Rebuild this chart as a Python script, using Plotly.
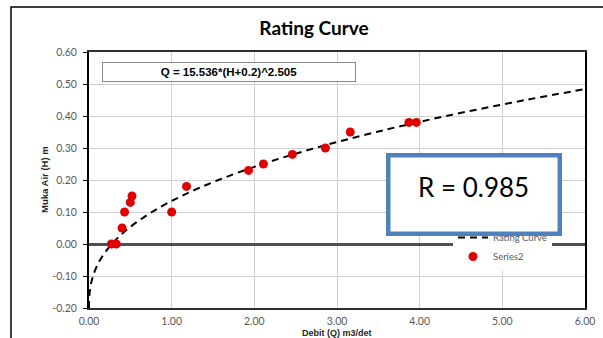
import plotly.graph_objects as go

# Observed points (Series2)
obs_q = [0.27, 0.33, 0.40, 0.43, 0.50, 0.52, 1.00, 1.18, 1.93, 2.11, 2.46, 2.86, 3.16, 3.87, 3.96]
obs_h = [0.00, 0.00, 0.05, 0.10, 0.13, 0.15, 0.10, 0.18, 0.23, 0.25, 0.28, 0.30, 0.35, 0.38, 0.38]

# Rating curve (Q = 15.536*(H+0.2)^2.505), tabulated
curve_h = [-0.20, -0.19, -0.18, -0.17, -0.16, -0.15, -0.125, -0.10, -0.075, -0.05, -0.025,
           0.00, 0.025, 0.05, 0.10, 0.15, 0.20, 0.25, 0.30, 0.35, 0.40, 0.45, 0.484]
curve_q = [0.0, 0.00015, 0.00086, 0.00238, 0.00489, 0.0086, 0.0236, 0.0486, 0.0850, 0.134, 0.1974,
           0.2757, 0.3703, 0.482, 0.761, 1.120, 1.565, 2.102, 2.737, 3.475, 4.321, 5.280, 6.0]

x_ticks = [0, 1, 2, 3, 4, 5, 6]
x_labels = ["0.00", "1.00", "2.00", "3.00", "4.00", "5.00", "6.00"]
y_ticks = [-0.2, -0.1, 0.0, 0.1, 0.2, 0.3, 0.4, 0.5, 0.6]
y_labels = ["-0.20", "-0.10", "0.00", "0.10", "0.20", "0.30", "0.40", "0.50", "0.60"]

title_text = "Rating Curve"
equation_text = "Q = 15.536*(H+0.2)^2.505"
r_text = "R = 0.985"

W, H = 603, 338
L, R, T, B = 89, 18, 52, 30

def px_x(p):
    return (p - L) / (W - L - R)

def px_y(p):
    return (H - B - p) / (H - T - B)

fig = go.Figure()
fig.add_trace(go.Scatter(
    x=curve_q, y=curve_h, mode="lines", name="Rating Curve",
    line=dict(color="black", width=2, dash="7px,5px", shape="spline"),
))
fig.add_trace(go.Scatter(
    x=obs_q, y=obs_h, mode="markers", name="Series2",
    marker=dict(color="#E00000", size=9),
))

tick_font = dict(family="Lato, Open Sans, sans-serif", size=10.5, color="#595959")

fig.update_layout(
    width=W, height=H,
    margin=dict(l=L, r=R, t=T, b=B),
    paper_bgcolor="white", plot_bgcolor="white",
    title=dict(text="<b>" + title_text + "</b>", x=314 / W, xanchor="center",
               y=1 - 28 / H, yanchor="middle",
               font=dict(family="Lato, sans-serif", size=19, color="black")),
    xaxis=dict(range=[0, 6], tickvals=x_ticks, ticktext=x_labels, tickfont=tick_font,
               showgrid=True, gridcolor="#D0D0D0", gridwidth=1,
               showline=True, linecolor="#303030", linewidth=1.5, mirror=True,
               zeroline=False, ticks="", ticklabelstandoff=3, automargin=False),
    yaxis=dict(range=[-0.2, 0.6], tickvals=y_ticks, ticktext=y_labels, tickfont=tick_font,
               showgrid=True, gridcolor="#D0D0D0", gridwidth=1,
               showline=True, linecolor="black", linewidth=2, mirror=True,
               zeroline=True, zerolinecolor="#505050", zerolinewidth=2.5,
               ticks="outside", ticklen=4, tickcolor="black", tickwidth=1,
               ticklabelstandoff=4, automargin=False),
    showlegend=True,
    legend=dict(x=px_x(453), xanchor="left", y=px_y(223), yanchor="top",
                bgcolor="white", borderwidth=0,
                font=dict(family="Lato, sans-serif", size=9.5, color="#595959")),
)

# Outer chart frame
fig.add_shape(type="rect", xref="paper", yref="paper",
              x0=px_x(11), x1=px_x(620), y0=px_y(360), y1=px_y(7),
              line=dict(color="black", width=1.5), fillcolor="rgba(0,0,0,0)", layer="above")

# Axis titles
fig.add_annotation(xref="paper", yref="paper", x=px_x(337), y=px_y(333),
                   text="<b>Debit (Q) m3/det</b>", showarrow=False,
                   xanchor="center", yanchor="middle",
                   font=dict(family="Liberation Sans, Arial, sans-serif", size=9, color="#262626"))
fig.add_annotation(xref="paper", yref="paper", x=px_x(44), y=px_y(180),
                   text="<b>Muka Air (H) m</b>", showarrow=False, textangle=-90,
                   xanchor="center", yanchor="middle",
                   font=dict(family="Liberation Sans, Arial, sans-serif", size=9.5, color="#262626"))

# Equation box
fig.add_annotation(xref="paper", yref="paper", x=px_x(229), y=px_y(72),
                   text="<b>" + equation_text + "</b>", showarrow=False,
                   xanchor="center", yanchor="middle", width=250, height=16,
                   bgcolor="white", bordercolor="#888888", borderwidth=1, borderpad=1,
                   font=dict(family="Liberation Sans, Arial, sans-serif", size=11.5, color="black"))

# R box (frame) and its text
fig.add_annotation(xref="paper", yref="paper", x=px_x(473.5), y=px_y(194),
                   text=" ", showarrow=False,
                   xanchor="center", yanchor="middle", width=163, height=70,
                   bgcolor="white", bordercolor="#4F81BD", borderwidth=4.5, borderpad=2,
                   font=dict(family="Lato, sans-serif", size=26, color="black"))
fig.add_annotation(xref="paper", yref="paper", x=px_x(473.5), y=px_y(187),
                   text=r_text, showarrow=False,
                   xanchor="center", yanchor="middle",
                   font=dict(family="Lato, sans-serif", size=26, color="black"))

post = """
document.body.style.margin = '0';
var gd = document.getElementById('{plot_id}');
function raiseRBox() {
  var info = gd.querySelector('.infolayer');
  if (!info) return;
  ['4', '5'].forEach(function (idx) {
    var a = info.querySelector('g.annotation[data-index="' + idx + '"]');
    if (a) { info.appendChild(a); }
  });
}
raiseRBox();
gd.on('plotly_afterplot', raiseRBox);
"""

fig.write_html("out.html", post_script=post, config={"displayModeBar": False})
